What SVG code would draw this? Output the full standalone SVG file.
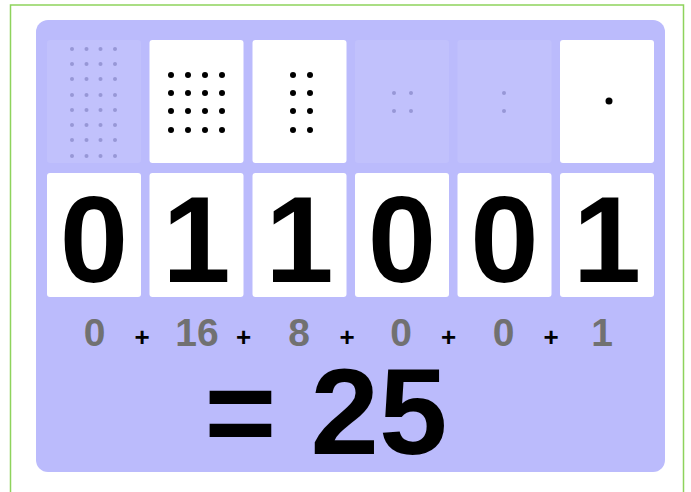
<svg xmlns="http://www.w3.org/2000/svg" width="691" height="492" viewBox="0 0 691 492">
<style>
.card{fill:#ffffff;}
.faded{fill:#c1c1fc;}
.dot{fill:#000000;}
.gdot{fill:#9797d6;}
.digit{font-family:"Liberation Sans",Arial,sans-serif;font-weight:bold;font-size:123px;fill:#000;text-anchor:middle;}
.val{font-family:"Liberation Sans",Arial,sans-serif;font-weight:bold;font-size:39px;fill:#717171;text-anchor:middle;}
.plus{font-family:"Liberation Sans",Arial,sans-serif;font-weight:bold;font-size:26px;fill:#000;text-anchor:middle;}
.sum{font-family:"Liberation Sans",Arial,sans-serif;font-weight:bold;font-size:123px;fill:#000;text-anchor:middle;}
</style>
<rect x="0" y="0" width="691" height="492" fill="#ffffff"/>
<rect x="10.5" y="5" width="673" height="500" fill="#ffffff" stroke="#8ed35c" stroke-width="1.5"/>
<rect id="panel" x="36" y="20" width="629" height="452" rx="12" fill="#bbbbfc"/>

<g id="col32">
  <rect class="faded" x="47" y="40" width="94" height="123" rx="3"/>
  <g class="gdot">
    <circle cx="72" cy="49" r="2"/><circle cx="86.5" cy="49" r="2"/><circle cx="100.5" cy="49" r="2"/><circle cx="115" cy="49" r="2"/>
    <circle cx="72" cy="64" r="2"/><circle cx="86.5" cy="64" r="2"/><circle cx="100.5" cy="64" r="2"/><circle cx="115" cy="64" r="2"/>
    <circle cx="72" cy="79" r="2"/><circle cx="86.5" cy="79" r="2"/><circle cx="100.5" cy="79" r="2"/><circle cx="115" cy="79" r="2"/>
    <circle cx="72" cy="95" r="2"/><circle cx="86.5" cy="95" r="2"/><circle cx="100.5" cy="95" r="2"/><circle cx="115" cy="95" r="2"/>
    <circle cx="72" cy="110" r="2"/><circle cx="86.5" cy="110" r="2"/><circle cx="100.5" cy="110" r="2"/><circle cx="115" cy="110" r="2"/>
    <circle cx="72" cy="125" r="2"/><circle cx="86.5" cy="125" r="2"/><circle cx="100.5" cy="125" r="2"/><circle cx="115" cy="125" r="2"/>
    <circle cx="72" cy="140" r="2"/><circle cx="86.5" cy="140" r="2"/><circle cx="100.5" cy="140" r="2"/><circle cx="115" cy="140" r="2"/>
    <circle cx="72" cy="156" r="2"/><circle cx="86.5" cy="156" r="2"/><circle cx="100.5" cy="156" r="2"/><circle cx="115" cy="156" r="2"/>
  </g>
  <rect class="card" x="47" y="173" width="94" height="124" rx="3"/>
  <text class="digit" x="94" y="282">0</text>
</g>

<g id="col16">
  <rect class="card" x="149.5" y="40" width="94" height="123" rx="3"/>
  <g class="dot">
    <circle cx="171" cy="75" r="3"/><circle cx="188" cy="75" r="3"/><circle cx="205" cy="75" r="3"/><circle cx="222" cy="75" r="3"/>
    <circle cx="171" cy="93" r="3"/><circle cx="188" cy="93" r="3"/><circle cx="205" cy="93" r="3"/><circle cx="222" cy="93" r="3"/>
    <circle cx="171" cy="111" r="3"/><circle cx="188" cy="111" r="3"/><circle cx="205" cy="111" r="3"/><circle cx="222" cy="111" r="3"/>
    <circle cx="171" cy="130" r="3"/><circle cx="188" cy="130" r="3"/><circle cx="205" cy="130" r="3"/><circle cx="222" cy="130" r="3"/>
  </g>
  <rect class="card" x="149.5" y="173" width="94" height="124" rx="3"/>
  <text class="digit" x="196.5" y="282">1</text>
</g>

<g id="col8">
  <rect class="card" x="252.5" y="40" width="94" height="123" rx="3"/>
  <g class="dot">
    <circle cx="293" cy="75" r="3"/><circle cx="310" cy="75" r="3"/>
    <circle cx="293" cy="93" r="3"/><circle cx="310" cy="93" r="3"/>
    <circle cx="293" cy="111" r="3"/><circle cx="310" cy="111" r="3"/>
    <circle cx="293" cy="130" r="3"/><circle cx="310" cy="130" r="3"/>
  </g>
  <rect class="card" x="252.5" y="173" width="94" height="124" rx="3"/>
  <text class="digit" x="299.5" y="282">1</text>
</g>

<g id="col4">
  <rect class="faded" x="355" y="40" width="94" height="123" rx="3"/>
  <g class="gdot">
    <circle cx="394" cy="93" r="2"/><circle cx="411" cy="93" r="2"/>
    <circle cx="394" cy="111" r="2"/><circle cx="411" cy="111" r="2"/>
  </g>
  <rect class="card" x="355" y="173" width="94" height="124" rx="3"/>
  <text class="digit" x="402" y="282">0</text>
</g>

<g id="col2">
  <rect class="faded" x="457.5" y="40" width="94" height="123" rx="3"/>
  <g class="gdot">
    <circle cx="504" cy="93" r="2"/>
    <circle cx="504" cy="111" r="2"/>
  </g>
  <rect class="card" x="457.5" y="173" width="94" height="124" rx="3"/>
  <text class="digit" x="504.5" y="282">0</text>
</g>

<g id="col1">
  <rect class="card" x="560" y="40" width="94" height="123" rx="3"/>
  <circle class="dot" cx="609" cy="101" r="3.5"/>
  <rect class="card" x="560" y="173" width="94" height="124" rx="3"/>
  <text class="digit" x="607" y="282">1</text>
</g>

<g id="values">
  <text class="val" x="94.5" y="346">0</text>
  <text class="plus" x="142" y="346">+</text>
  <text class="val" x="197" y="346">16</text>
  <text class="plus" x="243.5" y="346">+</text>
  <text class="val" x="299" y="346">8</text>
  <text class="plus" x="347" y="346">+</text>
  <text class="val" x="401" y="346">0</text>
  <text class="plus" x="448.5" y="346">+</text>
  <text class="val" x="503.5" y="346">0</text>
  <text class="plus" x="551" y="346">+</text>
  <text class="val" x="602" y="346">1</text>
</g>

<g id="total">
  <text class="sum" x="326" y="454">= 25</text>
</g>
</svg>
